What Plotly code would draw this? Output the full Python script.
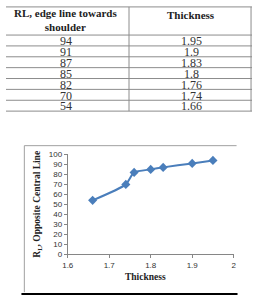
import plotly.graph_objects as go

# ---- data ----
rl_values = [94, 91, 87, 85, 82, 70, 54]
thickness = [1.95, 1.9, 1.83, 1.8, 1.76, 1.74, 1.66]
thickness_labels = ["1.95", "1.9", "1.83", "1.8", "1.76", "1.74", "1.66"]
header_left = "RL, edge line towards<br>shoulder"
header_right = "Thickness"
x_title = "Thickness"
y_title = "R<sub>L</sub>, Opposite Central Line"

W, H = 255, 303

def px(x):
    return x / W

def py(y):
    return 1 - y / H

fig = go.Figure()

# chart trace (sorted by thickness)
pairs = sorted(zip(thickness, rl_values))
fig.add_trace(go.Scatter(
    x=[p[0] for p in pairs], y=[p[1] for p in pairs],
    mode="lines+markers",
    line=dict(color="#4A7EBB", width=2, shape="spline", smoothing=0.6),
    marker=dict(symbol="diamond", size=7, color="#4A7EBB"),
    showlegend=False, hoverinfo="skip",
))

shapes = []
annotations = []

# ---- table ----
GRAY = "#8c8c8c"
row_lines = [3, 32] + [32 + 11.2 * (i + 1) for i in range(len(rl_values))]
for yy in row_lines:
    shapes.append(dict(type="line", xref="paper", yref="paper",
                       x0=0, x1=px(255), y0=py(yy), y1=py(yy),
                       line=dict(color=GRAY, width=1)))
for xx in [127.5, 254]:
    shapes.append(dict(type="line", xref="paper", yref="paper",
                       x0=px(xx), x1=px(xx), y0=py(3), y1=py(row_lines[-1]),
                       line=dict(color=GRAY, width=1)))

hfont = dict(family="Liberation Serif", size=11, color="#222")
annotations.append(dict(text="<b>" + header_left.replace("<br>", "</b><br><b>") + "</b>",
                        xref="paper", yref="paper", x=px(62), y=py(17),
                        showarrow=False, font=hfont, xanchor="center", yanchor="middle"))
annotations.append(dict(text="<b>" + header_right + "</b>",
                        xref="paper", yref="paper", x=px(192), y=py(11),
                        showarrow=False, font=hfont, xanchor="center", yanchor="middle"))
cfont = dict(family="Liberation Serif", size=12, color="#333")
for i, (rl, th) in enumerate(zip(rl_values, thickness_labels)):
    yc = row_lines[2 + i] - 4.8
    annotations.append(dict(text=str(rl), xref="paper", yref="paper",
                            x=px(62), y=py(yc), showarrow=False, font=cfont,
                            xanchor="center", yanchor="middle"))
    annotations.append(dict(text=th, xref="paper", yref="paper",
                            x=px(192), y=py(yc), showarrow=False, font=cfont,
                            xanchor="center", yanchor="middle"))

# ---- chart frame ----
shapes.append(dict(type="line", xref="paper", yref="paper",
                   x0=px(19), x1=px(19), y0=py(146), y1=py(297),
                   line=dict(color="#a0a0a0", width=1)))
shapes.append(dict(type="line", xref="paper", yref="paper",
                   x0=px(19), x1=px(239), y0=py(146), y1=py(146),
                   line=dict(color="#a0a0a0", width=1)))
shapes.append(dict(type="line", xref="paper", yref="paper",
                   x0=px(16), x1=px(240), y0=py(299), y1=py(299),
                   line=dict(color="#000", width=2)))

# axis titles
annotations.append(dict(text="<b>" + x_title + "</b>", xref="paper", yref="paper",
                        x=px(145), y=py(281), showarrow=False,
                        font=dict(family="Liberation Serif", size=9.5, color="#222"),
                        xanchor="center", yanchor="middle"))
annotations.append(dict(text="<b>" + y_title + "</b>", xref="paper", yref="paper",
                        x=px(33), y=py(206), showarrow=False, textangle=-90,
                        font=dict(family="Liberation Serif", size=9.5, color="#222"),
                        xanchor="center", yanchor="middle"))

axcol = "#868686"
fig.update_layout(
    width=W, height=H, margin=dict(l=0, r=0, t=0, b=0),
    paper_bgcolor="white", plot_bgcolor="white",
    xaxis=dict(domain=[px(64), px(236)], range=[1.6, 2.0], dtick=0.1,
               tickvals=[1.6, 1.7, 1.8, 1.9, 2.0], ticktext=["1.6", "1.7", "1.8", "1.9", "2"],
               showgrid=False, zeroline=False, showline=True, linecolor=axcol, linewidth=1,
               ticks="outside", ticklen=3, tickcolor=axcol,
               tickfont=dict(family="Liberation Sans", size=8, color="#333"), anchor="y"),
    yaxis=dict(domain=[py(258), py(155)], range=[0, 100], dtick=10,
               showgrid=False, zeroline=False, showline=True, linecolor=axcol, linewidth=1,
               ticks="outside", ticklen=3, tickcolor=axcol,
               tickfont=dict(family="Liberation Sans", size=8, color="#333"), anchor="x"),
    shapes=shapes, annotations=annotations,
)

fig.write_html("out.html")
